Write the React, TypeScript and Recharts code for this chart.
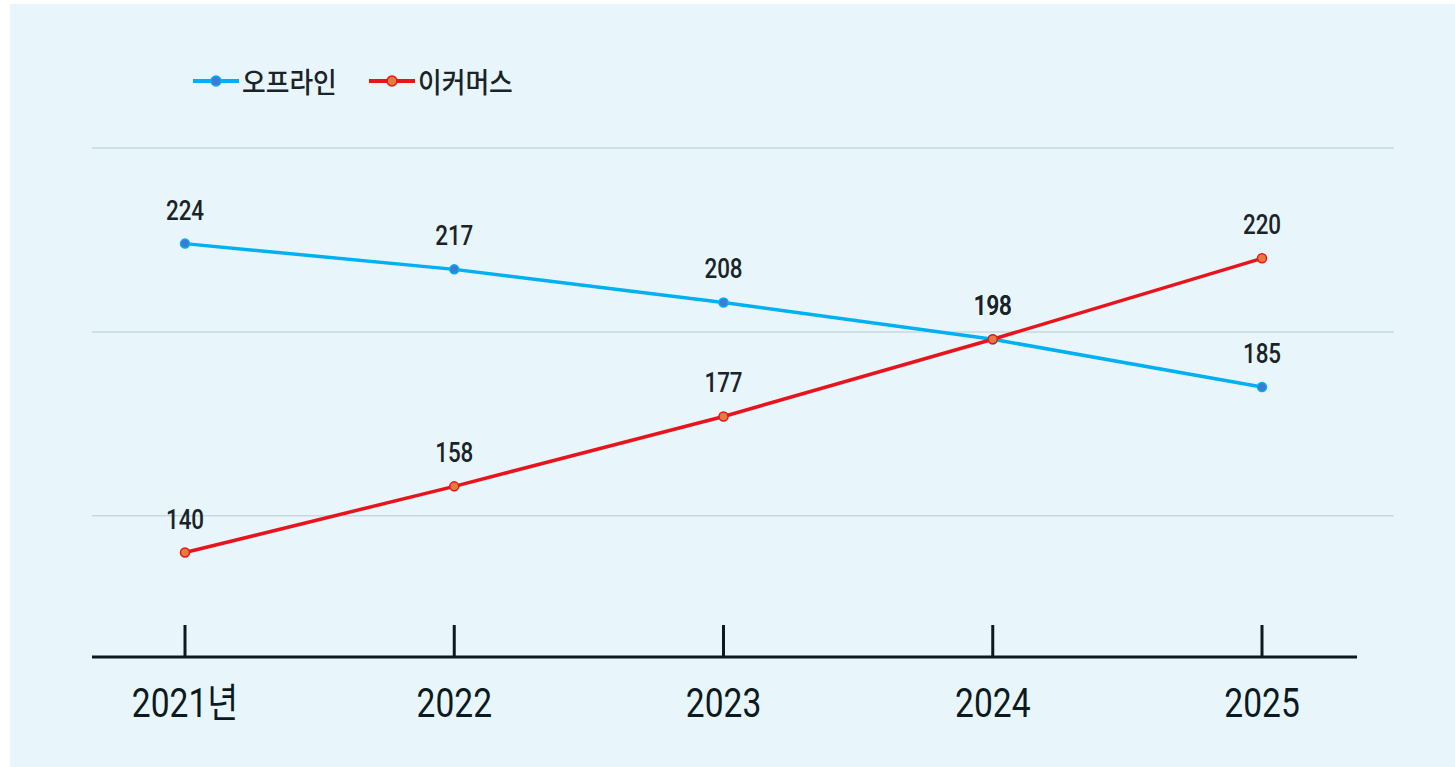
import React from 'react';
import { LineChart, Line, XAxis, YAxis, CartesianGrid, Legend, LabelList } from 'recharts';

const categories = ['2021년', '2022', '2023', '2024', '2025'];
const offlineValues = [224, 217, 208, 198, 185];
const ecommerceValues = [140, 158, 177, 198, 220];
const yTicks = [150, 200, 250];
const yDomain: [number, number] = [111.6, 250];

const seriesConfig = [
  { key: 'offline', name: '오프라인', color: '#00b0f0', dotFill: '#3b7bd6' },
  { key: 'ecommerce', name: '이커머스', color: '#e8141c', dotFill: '#e47c3c' },
];

const data = categories.map((c, i) => ({
  year: c,
  offline: offlineValues[i],
  ecommerce: ecommerceValues[i],
}));

const NUM_FONT = "Roboto, 'Noto Sans CJK KR', sans-serif";
const KR_FONT = "'Noto Sans CJK KR', 'Noto Sans', sans-serif";
const INK = '#0b1a20';

const YearTick = (props: any) => {
  const { x, y, payload } = props;
  return (
    <g>
      <line x1={x} x2={x} y1={y} y2={y - 32} stroke={INK} strokeWidth={3} />
      <text
        transform={`translate(${x},${y + 60}) scale(0.84,1)`}
        textAnchor="middle"
        fontSize={40}
        fill={INK}
        fontFamily={NUM_FONT}
      >
        {payload.value}
      </text>
    </g>
  );
};

const GridLine = (props: any) => {
  const { x1, x2, y1, y2, y, height } = props;
  if (typeof y === 'number' && typeof height === 'number' && Math.abs(y1 - (y + height)) < 1) {
    return <g />;
  }
  return <line x1={x1} x2={x2 + 37} y1={y1} y2={y2} stroke="#c8d8e0" strokeWidth={1.5} />;
};

const ValueLabel = (props: any) => {
  const { x, y, value } = props;
  return (
    <text
      transform={`translate(${x},${y - 24}) scale(0.8,1)`}
      textAnchor="middle"
      fontSize={28}
      fontWeight={500}
      fill="#1a2328"
      fontFamily={NUM_FONT}
    >
      {value}
    </text>
  );
};

const LegendContent = (props: any) => {
  const { payload } = props;
  return (
    <div style={{ display: 'flex', alignItems: 'center', height: 30 }}>
      {(payload || []).map((p: any) => {
        const cfg = seriesConfig.find((s) => s.key === p.dataKey) || seriesConfig[0];
        return (
          <div key={p.dataKey} style={{ display: 'flex', alignItems: 'center', marginRight: 24 }}>
            <svg width={46} height={20}>
              <line x1={0} x2={46} y1={10} y2={10} stroke={cfg.color} strokeWidth={4} />
              <circle cx={23} cy={10} r={5} fill={cfg.dotFill} stroke={cfg.color} strokeWidth={1.5} />
            </svg>
            <span
              style={{
                marginLeft: 3,
                fontFamily: KR_FONT,
                fontSize: 28,
                fontWeight: 500,
                color: '#1a2328',
                lineHeight: '30px',
                display: 'inline-block',
                transform: 'scale(0.92,1)',
                transformOrigin: 'left center',
                whiteSpace: 'nowrap',
              }}
            >
              {p.value}
            </span>
          </div>
        );
      })}
    </div>
  );
};

export default function App() {
  return (
    <div style={{ position: 'absolute', left: 10, top: 4, width: 1445, height: 763, background: '#e8f6fc' }}>
      <LineChart
        width={1445}
        height={763}
        data={data}
        margin={{ top: 144, left: 82, right: 98, bottom: 30 }}
      >
        <CartesianGrid vertical={false} horizontal={GridLine as any} />
        <XAxis
          dataKey="year"
          height={80}
          padding={{ left: 93, right: 95 }}
          axisLine={{ stroke: INK, strokeWidth: 3 }}
          tickLine={false}
          tickSize={0}
          tickMargin={0}
          tick={YearTick}
          interval={0}
        />
        <YAxis hide width={0} domain={yDomain} ticks={yTicks} type="number" allowDataOverflow />
        <Legend
          layout="horizontal"
          verticalAlign="middle"
          align="center"
          wrapperStyle={{ top: 62, left: 183, width: 'auto', height: 30 }}
          content={LegendContent}
        />
        {seriesConfig.map((s) => (
          <Line
            key={s.key}
            type="linear"
            dataKey={s.key}
            name={s.name}
            stroke={s.color}
            strokeWidth={3.5}
            dot={{ r: 4.5, fill: s.dotFill, stroke: s.color, strokeWidth: 1.5 }}
            activeDot={false}
            isAnimationActive={false}
          >
            <LabelList dataKey={s.key} content={ValueLabel} />
          </Line>
        ))}
      </LineChart>
    </div>
  );
}
